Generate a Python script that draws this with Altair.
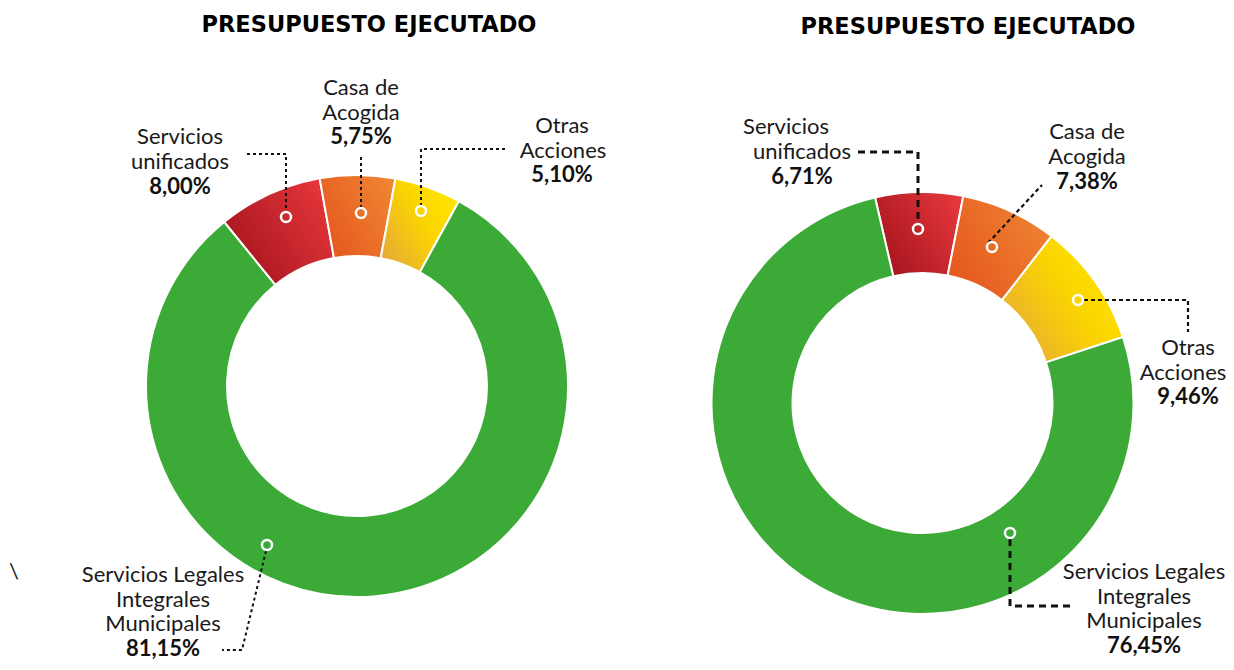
import altair as alt
import pandas as pd
import numpy as np

# ---------------- data ----------------
titulo = "PRESUPUESTO EJECUTADO"
categorias = ["Servicios unificados", "Casa de Acogida", "Otras Acciones",
              "Servicios Legales Integrales Municipales"]
nombres_en_lineas = [["Servicios", "unificados"], ["Casa de", "Acogida"],
                     ["Otras", "Acciones"], ["Servicios Legales", "Integrales", "Municipales"]]
valores_izq = [8.00, 5.75, 5.10, 81.15]
valores_der = [6.71, 7.38, 9.46, 76.45]
textos_izq = ["8,00%", "5,75%", "5,10%", "81,15%"]
textos_der = ["6,71%", "7,38%", "9,46%", "76,45%"]

# ---------------- layout (page pixel coordinates) ----------------
W, H, M = 1218, 654, 8
donas = [
    {"cx": 357, "cy": 386, "inicio": -39, "tx": 369, "ty": 25},
    {"cx": 922.5, "cy": 403, "inicio": -13, "tx": 968, "ty": 27},
]
R_OUT, R_IN = 211, 130
# per label: x of each line, y of each line
etiquetas_pos = [
    [([180, 180, 180], [137, 162, 187]),
     ([361, 361, 361], [88, 112.5, 137]),
     ([562, 563, 562], [126, 150.5, 175]),
     ([163, 163, 163, 163], [575, 599.5, 624, 648.5])],
    [([786, 802, 802], [127, 152, 177]),
     ([1087, 1087, 1087], [132, 157, 182]),
     ([1188, 1183, 1188], [348, 372.5, 397])],
]
etiquetas_pos[1].append(([1144, 1144, 1144, 1144], [572, 596.5, 621, 645.5]))
guias = [
    [("fino", [(247, 154), (286, 154), (286, 211)]),
     ("fino", [(361, 157), (361, 207)]),
     ("fino", [(421, 206), (421, 149), (505, 149)]),
     ("fino", [(266, 551), (242, 650), (222, 650)])],
    [("grueso", [(858, 152), (918, 152), (918, 222)]),
     ("medio", [(988, 243), (1042, 185)]),
     ("medio", [(1084, 300), (1188, 300), (1188, 332)]),
     ("grueso", [(1010, 539), (1010, 606), (1070, 606)])],
]
circulos = [[(286, 217), (361, 213), (421, 211), (267, 545)],
            [(918, 229), (992, 247), (1078, 300), (1010, 533)]]

rellenos = [
    {"gradient": "linear", "x1": 0, "y1": 0.8, "x2": 1, "y2": 0.2,
     "stops": [{"offset": 0, "color": "#a3131d"}, {"offset": 1, "color": "#e5373b"}]},
    {"gradient": "linear", "x1": 0, "y1": 0.8, "x2": 1, "y2": 0.2,
     "stops": [{"offset": 0, "color": "#e5561e"}, {"offset": 1, "color": "#ef8532"}]},
    {"gradient": "linear", "x1": 0, "y1": 0.85, "x2": 1, "y2": 0.15,
     "stops": [{"offset": 0, "color": "#e6a93a"}, {"offset": 0.55, "color": "#fbd400"}, {"offset": 1, "color": "#ffe900"}]},
    "#3caa36",
]
FUENTE = "Lato"
FUENTE_TIT = "DejaVu Sans"
TXT = "#1a1a1a"

# ---------------- tables ----------------
arcos = []
for d, vals in zip(donas, [valores_izq, valores_der]):
    cum = np.concatenate([[0], np.cumsum(vals)])
    for i, c in enumerate(categorias):
        arcos.append({"cat": c, "idx": i, "cx": d["cx"], "cy": d["cy"],
                      "t0": d["inicio"] + cum[i] * 3.6, "t1": d["inicio"] + cum[i + 1] * 3.6})
arcos = pd.DataFrame(arcos)

lineas_texto = []
for k, textos in enumerate([textos_izq, textos_der]):
    for i, c in enumerate(categorias):
        xs_l, ys_l = etiquetas_pos[k][i]
        partes = nombres_en_lineas[i] + [textos[i]]
        for j, p in enumerate(partes):
            lineas_texto.append({"t": p, "x": xs_l[j], "y": ys_l[j],
                                 "negrita": j == len(partes) - 1})
lineas_texto = pd.DataFrame(lineas_texto)

seg = []
n = 0
for k in range(2):
    for estilo, pts in guias[k]:
        for o, (x, y) in enumerate(pts):
            seg.append({"id": n, "ord": o, "x": x, "y": y, "estilo": estilo})
        n += 1
seg = pd.DataFrame(seg)

circ = pd.DataFrame([{"x": x, "y": y} for k in range(2) for (x, y) in circulos[k]])
titulos = pd.DataFrame([{"t": titulo, "x": d["tx"], "y": d["ty"]} for d in donas])
extra = pd.DataFrame([{"t": "\\", "x": 14, "y": 572}])

xs = alt.Scale(domain=[M, M + W], nice=False, zero=False)
ys = alt.Scale(domain=[M, M + H], nice=False, zero=False, reverse=True)
ts = alt.Scale(domain=[0, 360], range=[0, 2 * np.pi], zero=False, nice=False)

X = lambda f: alt.X(f, type="quantitative", scale=xs, axis=None)
Y = lambda f: alt.Y(f, type="quantitative", scale=ys, axis=None)

capas = []
for i, c in enumerate(categorias):
    capas.append(
        alt.Chart(arcos[arcos["idx"] == i]).mark_arc(
            fill=rellenos[i], stroke="white", strokeWidth=2,
            outerRadius=R_OUT, innerRadius=R_IN
        ).encode(
            x=X("cx"), y=Y("cy"),
            theta=alt.Theta("t0:Q", scale=ts),
            theta2="t1",
        )
    )

estilos = {"fino": ([3, 3], 2), "medio": ([4, 3], 2.2), "grueso": ([7, 5], 3)}
for e, (dash, sw) in estilos.items():
    capas.append(
        alt.Chart(seg[seg["estilo"] == e]).mark_line(
            color="#111111", strokeWidth=sw, strokeDash=dash
        ).encode(x=X("x"), y=Y("y"), detail="id:N", order="ord:Q")
    )

capas.append(
    alt.Chart(circ).mark_point(shape="circle", filled=False, stroke="white",
                               strokeWidth=2.5, size=100, opacity=1)
    .encode(x=X("x"), y=Y("y"))
)

capas.append(
    alt.Chart(lineas_texto[~lineas_texto["negrita"]]).mark_text(
        font=FUENTE, fontSize=22, color=TXT, align="center", baseline="middle"
    ).encode(x=X("x"), y=Y("y"), text="t:N")
)
capas.append(
    alt.Chart(lineas_texto[lineas_texto["negrita"]]).mark_text(
        font=FUENTE, fontSize=22, fontWeight="bold", color="#111111",
        align="center", baseline="middle"
    ).encode(x=X("x"), y=Y("y"), text="t:N")
)
capas.append(
    alt.Chart(titulos).mark_text(
        font=FUENTE_TIT, fontSize=22.5, fontWeight="bold", color="#000000",
        align="center", baseline="middle"
    ).encode(x=X("x"), y=Y("y"), text="t:N")
)
capas.append(
    alt.Chart(extra).mark_text(
        font=FUENTE, fontSize=22, color=TXT, align="center", baseline="middle"
    ).encode(x=X("x"), y=Y("y"), text="t:N")
)

chart = alt.layer(*capas).properties(
    width=W, height=H, padding=0,
    autosize=alt.AutoSizeParams(type="none"),
).configure_view(strokeWidth=0)

chart.save("out.html", embed_options={"renderer": "svg", "actions": False})
